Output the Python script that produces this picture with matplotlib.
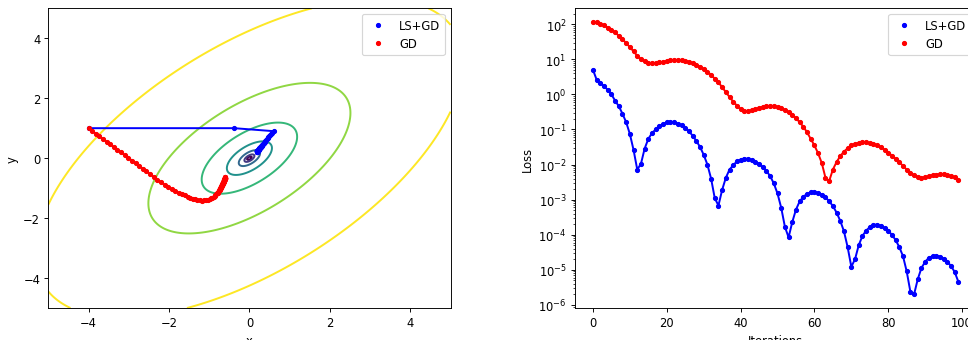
import numpy as np
import matplotlib
matplotlib.use("Agg")
import matplotlib.pyplot as plt

# loss per iteration
loss_lsgd = [5.0, 2.6, 2.1, 1.7, 1.35, 1.0, 0.66, 0.46, 0.28, 0.16,
             0.074, 0.026, 0.0072, 0.0105, 0.0285, 0.054, 0.079, 0.10, 0.122, 0.143,
             0.16, 0.166, 0.16, 0.145, 0.13, 0.11, 0.088, 0.067, 0.047, 0.032,
             0.019, 0.010, 0.004, 0.0011, 0.00068, 0.0019, 0.0042, 0.0072, 0.0096, 0.0123,
             0.0139, 0.0148, 0.0145, 0.0135, 0.0122, 0.0104, 0.0085, 0.0066, 0.0047, 0.0029,
             0.0015, 0.00059, 0.00017, 8.4e-5, 2.3e-4, 5.2e-4, 8.9e-4, 1.2e-3, 1.47e-3, 1.63e-3,
             1.66e-3, 1.56e-3, 1.4e-3, 1.17e-3, 9.0e-4, 6.6e-4, 4.3e-4, 2.5e-4, 1.26e-4, 4.45e-5,
             1.23e-5, 2.0e-5, 5.0e-5, 9.2e-5, 1.31e-4, 1.65e-4, 1.9e-4, 1.95e-4, 1.8e-4, 1.55e-4,
             1.3e-4, 1.0e-4, 7.07e-5, 4.47e-5, 2.46e-5, 9.1e-6, 2.4e-6, 2.0e-6, 5.4e-6, 1.13e-5,
             1.7e-5, 2.2e-5, 2.46e-5, 2.5e-5, 2.4e-5, 2.1e-5, 1.7e-5, 1.3e-5, 8.7e-6, 4.6e-6]
loss_gd = [116, 112, 102, 92, 80, 69, 58, 46.6, 37.5, 28.8,
           22.2, 16.7, 12.6, 10.1, 8.7, 7.96, 7.6, 7.8, 8.1, 8.5,
           8.9, 9.25, 9.5, 9.5, 9.5, 9.1, 8.5, 7.8, 7.0, 6.1,
           5.2, 4.4, 3.6, 2.8, 2.2, 1.6, 1.16, 0.84, 0.62, 0.48,
           0.38, 0.34, 0.33, 0.35, 0.38, 0.41, 0.44, 0.46, 0.47, 0.46,
           0.44, 0.40, 0.36, 0.31, 0.26, 0.21, 0.16, 0.12, 0.083, 0.054,
           0.035, 0.021, 0.011, 0.0042, 0.0034, 0.0072, 0.0118, 0.0174, 0.0234, 0.029,
           0.035, 0.039, 0.041, 0.043, 0.043, 0.041, 0.039, 0.035, 0.031, 0.0265,
           0.022, 0.018, 0.0145, 0.0117, 0.0092, 0.0072, 0.0058, 0.0049, 0.0043, 0.0042,
           0.0043, 0.0047, 0.005, 0.0052, 0.0053, 0.0053, 0.0051, 0.0047, 0.0043, 0.0036]

# parameter paths
lsgd_x = [-4.0, -0.38, 0.60,
          0.571, 0.543, 0.518, 0.494, 0.472, 0.452, 0.433, 0.415, 0.399, 0.383,
          0.369, 0.356, 0.344, 0.332, 0.321, 0.312, 0.302, 0.294, 0.286, 0.278,
          0.271, 0.265, 0.259, 0.254, 0.248, 0.244, 0.239, 0.235, 0.231, 0.228,
          0.224, 0.221, 0.218, 0.216, 0.213, 0.211, 0.209, 0.207, 0.205, 0.203,
          0.201, 0.200, 0.199, 0.197, 0.196, 0.195, 0.194, 0.193, 0.192, 0.191,
          0.190, 0.190, 0.189, 0.188, 0.188, 0.187, 0.187, 0.186, 0.186, 0.185]
lsgd_y = [1.0, 1.0, 0.90,
          0.852, 0.807, 0.765, 0.726, 0.690, 0.656, 0.625, 0.596, 0.569, 0.544,
          0.521, 0.499, 0.479, 0.460, 0.442, 0.426, 0.411, 0.397, 0.384, 0.372,
          0.360, 0.350, 0.340, 0.331, 0.322, 0.315, 0.307, 0.300, 0.294, 0.288,
          0.283, 0.278, 0.273, 0.269, 0.264, 0.261, 0.257, 0.254, 0.251, 0.248,
          0.245, 0.243, 0.240, 0.238, 0.236, 0.234, 0.233, 0.231, 0.230, 0.228,
          0.227, 0.226, 0.225, 0.224, 0.223, 0.222, 0.221, 0.220, 0.220, 0.219]
gd_x = [-4.00, -3.91, -3.82, -3.73, -3.64, -3.55, -3.46, -3.37, -3.28, -3.19,
        -3.10, -3.01, -2.92, -2.83, -2.74, -2.65, -2.56, -2.47, -2.38, -2.29,
        -2.20, -2.11, -2.02, -1.93, -1.84, -1.75,
        -1.677, -1.607, -1.539, -1.474, -1.412, -1.352, -1.294, -1.235, -1.179, -1.126,
        -1.076, -1.031, -0.990, -0.954, -0.919, -0.890, -0.866, -0.844, -0.823, -0.807,
        -0.792, -0.778, -0.765, -0.753, -0.743, -0.734, -0.726, -0.718, -0.710, -0.703,
        -0.696, -0.690, -0.684, -0.679, -0.674, -0.669, -0.665, -0.660, -0.656, -0.652,
        -0.649, -0.645, -0.642, -0.639, -0.636, -0.634, -0.632, -0.630, -0.628, -0.626,
        -0.624, -0.622, -0.621, -0.619, -0.618, -0.616, -0.615, -0.614, -0.612, -0.611,
        -0.610, -0.609, -0.608, -0.607, -0.606, -0.606, -0.605, -0.604, -0.603, -0.603,
        -0.602, -0.601, -0.601, -0.600]
gd_y = [1.00, 0.91, 0.82, 0.73, 0.64, 0.55, 0.46, 0.37, 0.28, 0.19,
        0.10, 0.01, -0.08, -0.17, -0.26, -0.35, -0.44, -0.53, -0.62, -0.72,
        -0.80, -0.88, -0.96, -1.03, -1.10, -1.16,
        -1.204, -1.246, -1.283, -1.317, -1.348, -1.376, -1.401, -1.413, -1.418, -1.413,
        -1.400, -1.382, -1.363, -1.338, -1.314, -1.288, -1.258, -1.230, -1.204, -1.176,
        -1.149, -1.123, -1.099, -1.075, -1.052, -1.030, -1.009, -0.989, -0.971, -0.953,
        -0.936, -0.919, -0.904, -0.889, -0.875, -0.861, -0.849, -0.837, -0.825, -0.814,
        -0.804, -0.794, -0.785, -0.776, -0.767, -0.759, -0.751, -0.744, -0.737, -0.730,
        -0.724, -0.718, -0.712, -0.707, -0.701, -0.697, -0.692, -0.687, -0.683, -0.679,
        -0.676, -0.672, -0.668, -0.665, -0.662, -0.659, -0.657, -0.654, -0.651, -0.649,
        -0.647, -0.644, -0.642, -0.640]

# quadratic bowl drawn as contours of log f
qa, qb, qc = 1.11, -1.332, 1.11
log_levels = [-6, -4.5, -3, -1.5, 0, 1.5, 3]

# reference looks like a downscaled render, so use a lower dpi
DPI = 83
fig = plt.figure(figsize=(968 / DPI, 341 / DPI), dpi=DPI)
ax1 = fig.add_axes([0.0499, 0.0938, 0.4155, 0.879])
ax2 = fig.add_axes([0.5937, 0.0938, 0.4152, 0.879])

g = np.linspace(-5, 5, 400)
X, Y = np.meshgrid(g, g)
Z = np.log(qa * X**2 + qb * X * Y + qc * Y**2)
ax1.contour(X, Y, Z, levels=log_levels, cmap='viridis', linewidths=1.7)

ax1.plot(lsgd_x, lsgd_y, 'b-', lw=1.7)
ax1.plot(lsgd_x, lsgd_y, 'b.', ms=7, label='LS+GD')
ax1.plot(gd_x, gd_y, 'r-', lw=1.7)
ax1.plot(gd_x, gd_y, 'r.', ms=7, label='GD')
ax1.set_xlim(-5, 5)
ax1.set_ylim(-5, 5)
ax1.set_xlabel('x')
ax1.set_ylabel('y')
ax1.legend(loc='upper right')

it = np.arange(len(loss_lsgd))
ax2.semilogy(it, loss_lsgd, 'b-', lw=1.7)
ax2.semilogy(it, loss_lsgd, 'b.', ms=7, label='LS+GD')
ax2.semilogy(it, loss_gd, 'r-', lw=1.7)
ax2.semilogy(it, loss_gd, 'r.', ms=7, label='GD')
ax2.set_xlabel('Iterations')
ax2.set_ylabel('Loss')
ax2.legend(loc='upper right')

fig.savefig('out.png', dpi=DPI)
